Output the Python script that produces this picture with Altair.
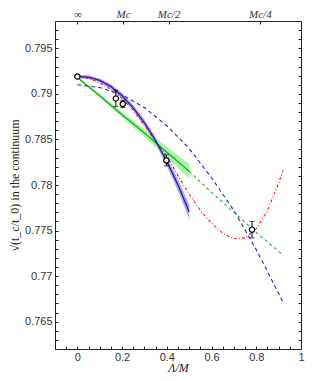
import altair as alt
import pandas as pd

# ---- data ----
# blue solid fit with error band
blue_x = [0.0, 0.05, 0.1, 0.15, 0.2, 0.25, 0.3, 0.35, 0.4, 0.45, 0.5]
blue_y = [0.7919, 0.79185, 0.79148, 0.7908, 0.78979, 0.78847, 0.78683, 0.78487, 0.78259, 0.77999, 0.77707]
blue_err = [0.0002, 0.0002, 0.0002, 0.00025, 0.0003, 0.0003, 0.00035, 0.0004, 0.0005, 0.00065, 0.0008]

# green solid fit with error band, and its dashed continuation
green_x = [0.0, 0.1, 0.2, 0.3, 0.4, 0.5]
green_y = [0.7918, 0.7898, 0.7877, 0.7857, 0.7836, 0.7815]
green_err = [0.0001, 0.0002, 0.0003, 0.0004, 0.0006, 0.0008]
gdash_x = [0.5, 0.6, 0.7, 0.8, 0.92]
gdash_y = [0.7815, 0.7792, 0.7770, 0.7748, 0.7723]

# red dash-dot curve
red_x = [0.0, 0.05, 0.1, 0.15, 0.2, 0.25, 0.3, 0.35, 0.4, 0.45, 0.5, 0.55, 0.6,
         0.65, 0.7, 0.75, 0.8, 0.85, 0.9, 0.92]
red_y = [0.7918, 0.7917, 0.7912, 0.7905, 0.7895, 0.7882, 0.7865, 0.7848, 0.7832,
         0.7810, 0.7790, 0.7772, 0.7758, 0.7747, 0.7741, 0.7742, 0.7752, 0.7772,
         0.7802, 0.7816]

# blue dashed curve
bdash_x = [0.0, 0.1, 0.2, 0.3, 0.4, 0.5, 0.6, 0.7, 0.8, 0.9, 0.92]
bdash_y = [0.7910, 0.7907, 0.7899, 0.7885, 0.7865, 0.7840, 0.7808, 0.7772, 0.7729, 0.7681, 0.7671]

# data points with errors
pt_x = [0.0, 0.172, 0.203, 0.398, 0.781]
pt_y = [0.7919, 0.7895, 0.7889, 0.7827, 0.7751]
pt_err = [0.0001, 0.0009, 0.0004, 0.0006, 0.0009]

# axes
x_ticks = [round(-0.1 + 0.05 * i, 2) for i in range(23)]
y_ticks = [round(0.762 + 0.001 * i, 3) for i in range(37)]
top_vals = [0.0, 0.204, 0.408, 0.816]
top_labels = ["∞", "Mc", "Mc/2", "Mc/4"]

band_blue = pd.DataFrame({"x": blue_x, "lo": [y - e for y, e in zip(blue_y, blue_err)],
                          "hi": [y + e for y, e in zip(blue_y, blue_err)], "y": blue_y})
band_green = pd.DataFrame({"x": green_x, "lo": [y - e for y, e in zip(green_y, green_err)],
                           "hi": [y + e for y, e in zip(green_y, green_err)], "y": green_y})
df_gdash = pd.DataFrame({"x": gdash_x, "y": gdash_y})
df_red = pd.DataFrame({"x": red_x, "y": red_y})
df_bdash = pd.DataFrame({"x": bdash_x, "y": bdash_y})
df_pts = pd.DataFrame({"x": pt_x, "y": pt_y,
                       "lo": [y - e for y, e in zip(pt_y, pt_err)],
                       "hi": [y + e for y, e in zip(pt_y, pt_err)]})

XS = alt.Scale(domain=[-0.1, 1.0], nice=False, zero=False)
YS = alt.Scale(domain=[0.762, 0.798], nice=False, zero=False)

LABEL_FONT = "Liberation Sans"
SERIF = "Liberation Serif"

bottom_axis = alt.Axis(
    values=x_ticks,
    labelExpr="round(datum.value*100) % 20 == 0 ? format(datum.value, '~g') : ''",
    title="Λ/M", titleFont=SERIF, titleFontStyle="italic", titleFontSize=12,
    titleFontWeight="normal", titleColor="#222", titlePadding=0,
    labelFont=LABEL_FONT, labelFontSize=11, labelColor="#333", labelPadding=2,
    labelFlush=False, labelOverlap=False,
    tickSize=3, tickColor="#222", offset=-3, domain=False, grid=False)

top_expr = " : ".join(
    [f"abs(datum.value - {v}) < 0.01 ? '{l}'" for v, l in zip(top_vals, top_labels)]) + " : ''"
top_axis = alt.Axis(
    orient="top", values=top_vals, labelExpr=top_expr, title=None,
    labelFont=SERIF, labelFontStyle="italic", labelFontSize=11, labelColor="#333",
    labelPadding=2, labelFlush=False, labelOverlap=False,
    tickSize=3, tickColor="#222", offset=-3, domain=False, grid=False)

left_axis = alt.Axis(
    values=y_ticks,
    labelExpr="round(datum.value*1000) % 5 == 0 ? format(datum.value, '.3~f') : ''",
    title="√(t_c/t_0) in the continuum", titleFont=SERIF, titleFontSize=12,
    titleFontWeight="normal", titleColor="#222", titlePadding=3,
    labelFont=LABEL_FONT, labelFontSize=11, labelColor="#333", labelPadding=3,
    labelFlush=False, labelOverlap=False,
    tickSize=3, tickColor="#222", offset=-3, domain=False, grid=False)

right_axis = alt.Axis(
    orient="right", values=y_ticks, labels=False, title=None,
    tickSize=3, tickColor="#222", offset=-3, domain=False, grid=False)


def X(axis=None, field="x"):
    return alt.X(f"{field}:Q", scale=XS, axis=axis)


def Y(field="y", axis=None):
    return alt.Y(f"{field}:Q", scale=YS, axis=axis)


blue_band = alt.Chart(band_blue).mark_area(color="#8f8ff2", opacity=0.75).encode(
    x=X(), y=Y("lo"), y2="hi")
green_band = alt.Chart(band_green).mark_area(color="#8ef08e", opacity=0.75).encode(
    x=X(), y=Y("lo"), y2="hi")

bdash = alt.Chart(df_bdash).mark_line(color="#2626d0", strokeWidth=1.1, strokeDash=[4, 3]).encode(
    x=X(bottom_axis), y=Y(axis=left_axis))
gdash = alt.Chart(df_gdash).mark_line(color="#1db31d", strokeWidth=1.1, strokeDash=[3, 3]).encode(
    x=X(top_axis), y=Y(axis=right_axis))
green_line = alt.Chart(band_green).mark_line(color="#14b014", strokeWidth=1.3).encode(
    x=X(), y=Y())
red_line = alt.Chart(df_red).mark_line(color="#ff1a1a", strokeWidth=1.1, strokeDash=[3, 2, 1, 2]).encode(
    x=X(), y=Y())
blue_line = alt.Chart(band_blue).mark_line(color="#1c1cb8", strokeWidth=1.3).encode(
    x=X(), y=Y())

err_rule = alt.Chart(df_pts).mark_rule(color="black", strokeWidth=1).encode(
    x=X(), y=Y("lo"), y2="hi")
cap_lo = alt.Chart(df_pts).mark_tick(color="black", orient="horizontal", size=5, thickness=1).encode(
    x=X(), y=Y("lo"))
cap_hi = alt.Chart(df_pts).mark_tick(color="black", orient="horizontal", size=5, thickness=1).encode(
    x=X(), y=Y("hi"))
points = alt.Chart(df_pts).mark_point(shape="circle", filled=True, fill="white", stroke="black",
                                       strokeWidth=1.2, size=28, opacity=1).encode(
    x=X(), y=Y())

chart = alt.layer(
    blue_band, green_band, bdash, gdash, green_line, red_line, blue_line,
    err_rule, cap_lo, cap_hi, points
).resolve_axis(x="independent", y="independent").properties(
    width=300, height=365,
    autosize=alt.AutoSizeParams(type="fit", contains="padding"),
    padding={"left": 0, "top": 0, "right": 3, "bottom": 0},
    background="white",
).configure_view(stroke="#222", strokeWidth=1)

chart.save("out.html", embed_options={"renderer": "svg", "actions": False})
